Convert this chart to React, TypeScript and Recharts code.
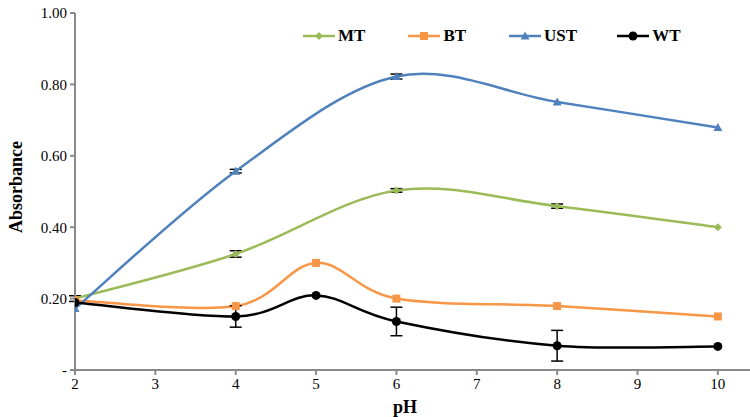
import React from "react"
import { ErrorBar, Legend, Line, LineChart, XAxis, YAxis } from "recharts"

const PH = [2, 4, 5, 6, 8, 10]
const MT = [0.2, 0.325, null, 0.503, 0.459, 0.4]
const MT_ERR = [0.008, 0.009, null, 0.005, 0.006, null]
const BT = [0.195, 0.179, 0.3, 0.2, 0.179, 0.15]
const BT_ERR = [null, null, null, null, null, null]
const UST = [0.172, 0.557, null, 0.822, 0.751, 0.679]
const UST_ERR = [null, 0.005, null, 0.007, null, null]
const WT = [0.189, 0.15, 0.209, 0.136, 0.068, 0.066]
const WT_ERR = [null, 0.03, null, 0.04, 0.043, null]

const X_TICKS = [2, 3, 4, 5, 6, 7, 8, 9, 10]
const Y_TICKS = [0, 0.2, 0.4, 0.6, 0.8, 1.0]

const FONT = '"Liberation Serif", "DejaVu Serif", serif'
const AXIS = "#898989"

type Marker = "diamond" | "square" | "triangle" | "circle"

interface Series {
  name: string
  color: string
  marker: Marker
  values: (number | null)[]
  errors: (number | null)[]
}

const SERIES: Series[] = [
  { name: "MT", color: "#9BBB59", marker: "diamond", values: MT, errors: MT_ERR },
  { name: "BT", color: "#F79646", marker: "square", values: BT, errors: BT_ERR },
  { name: "UST", color: "#4F81BD", marker: "triangle", values: UST, errors: UST_ERR },
  { name: "WT", color: "#000000", marker: "circle", values: WT, errors: WT_ERR },
]

// Excel-like smoothed line (Catmull-Rom through the points)
const excelSmooth = (context: any) => {
  let pts: [number, number][] = []
  return {
    areaStart() {},
    areaEnd() {},
    lineStart() {
      pts = []
    },
    lineEnd() {
      const n = pts.length
      if (!n) return
      context.moveTo(pts[0][0], pts[0][1])
      for (let i = 0; i < n - 1; i++) {
        const p0 = pts[Math.max(i - 1, 0)]
        const p1 = pts[i]
        const p2 = pts[i + 1]
        const p3 = pts[Math.min(i + 2, n - 1)]
        context.bezierCurveTo(
          p1[0] + (p2[0] - p0[0]) / 6,
          p1[1] + (p2[1] - p0[1]) / 6,
          p2[0] - (p3[0] - p1[0]) / 6,
          p2[1] - (p3[1] - p1[1]) / 6,
          p2[0],
          p2[1]
        )
      }
    },
    point(x: number, y: number) {
      pts.push([+x, +y])
    },
  }
}

function MarkerShape({ type, cx, cy, color }: { type: Marker; cx: number; cy: number; color: string }) {
  if (type === "diamond")
    return <path d={`M${cx},${cy - 4}L${cx + 4},${cy}L${cx},${cy + 4}L${cx - 4},${cy}Z`} fill={color} />
  if (type === "square") return <rect x={cx - 4} y={cy - 4} width={8} height={8} fill={color} />
  if (type === "triangle")
    return <path d={`M${cx},${cy - 4.5}L${cx + 4.5},${cy + 3.5}L${cx - 4.5},${cy + 3.5}Z`} fill={color} />
  return <circle cx={cx} cy={cy} r={4.5} fill={color} />
}

function ChartLegend() {
  return (
    <div style={{ display: "flex", alignItems: "center", fontFamily: FONT, fontWeight: "bold", fontSize: 17 }}>
      {SERIES.map((s) => (
        <div key={s.name} style={{ display: "flex", alignItems: "center", marginRight: s.name === "UST" ? 40 : 43 }}>
          <svg width={32} height={14}>
            <line x1={0} y1={7} x2={32} y2={7} stroke={s.color} strokeWidth={2.5} />
            <MarkerShape type={s.marker} cx={16} cy={7} color={s.color} />
          </svg>
          <span style={{ marginLeft: 3, color: "#000" }}>{s.name}</span>
        </div>
      ))}
    </div>
  )
}

export default function App(): React.JSX.Element {
  return (
    <div style={{ width: 750, height: 417, background: "#fff" }}>
      <style>{"body{margin:0}"}</style>
      <LineChart width={750} height={417} margin={{ top: 13, right: 0, bottom: 0, left: 0 }}>
        <XAxis
          type="number"
          dataKey="x"
          domain={[2, 10.4]}
          ticks={X_TICKS}
          allowDataOverflow
          height={47}
          stroke={AXIS}
          strokeWidth={2}
          tickSize={5}
          tickMargin={3}
          tick={{ fill: "#000", fontSize: 15, fontFamily: FONT }}
          label={{
            content: () => (
              <text x={405} y={413} textAnchor="middle" fontFamily={FONT} fontWeight="bold" fontSize={18} fill="#000">
                pH
              </text>
            ),
          }}
        />
        <YAxis
          type="number"
          domain={[0, 1]}
          ticks={Y_TICKS}
          width={75}
          stroke={AXIS}
          strokeWidth={2}
          tickSize={5}
          tickMargin={3}
          tick={{ fill: "#000", fontSize: 15, fontFamily: FONT }}
          tickFormatter={(v: number) => (v === 0 ? "-" : v.toFixed(2))}
          label={{
            content: () => (
              <text
                x={22}
                y={187}
                transform="rotate(-90 22 187)"
                textAnchor="middle"
                fontFamily={FONT}
                fontWeight="bold"
                fontSize={18}
                fill="#000"
              >
                Absorbance
              </text>
            ),
          }}
        />
        <Legend
          layout="horizontal"
          verticalAlign="middle"
          align="center"
          content={() => <ChartLegend />}
          wrapperStyle={{ top: 26, left: 303, width: "auto" }}
        />
        {SERIES.map((s) => {
          const data = PH.map((x, i) => ({ x, y: s.values[i], err: s.errors[i] })).filter((d) => d.y != null)
          return (
            <Line
              key={s.name}
              name={s.name}
              data={data}
              dataKey="y"
              type={excelSmooth as any}
              stroke={s.color}
              strokeWidth={2.5}
              isAnimationActive={false}
              dot={(p: any) => <MarkerShape key={p.index} type={s.marker} cx={p.cx} cy={p.cy} color={s.color} />}
              activeDot={false}
            >
              <ErrorBar dataKey="err" direction="y" width={6} stroke="#000" strokeWidth={1.5} />
            </Line>
          )
        })}
      </LineChart>
    </div>
  )
}
